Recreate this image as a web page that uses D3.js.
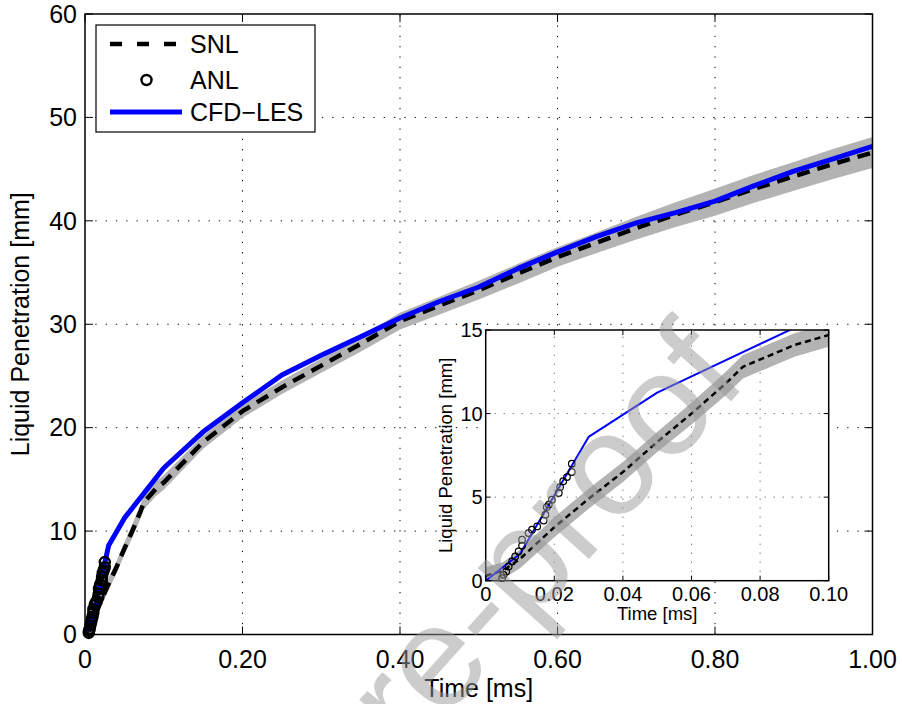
<!DOCTYPE html>
<html><head><meta charset="utf-8">
<script src="https://cdn.jsdelivr.net/npm/d3@7"></script>
<style>body{margin:0;background:#fff}svg{display:block;font-family:"Liberation Sans",Arial,sans-serif}</style>
</head><body><svg id="c" width="902" height="704"></svg>
<script>
// ---- data ----
const snlT = [0, 0.005, 0.01, 0.02, 0.03, 0.04, 0.05, 0.06, 0.07, 0.075, 0.09, 0.1, 0.15, 0.2, 0.25, 0.3, 0.35, 0.4, 0.45, 0.5, 0.55, 0.6, 0.65, 0.7, 0.75, 0.8, 0.85, 0.9, 0.95, 1.0];
const snlV = [0.3, 0.6, 1.3, 3.2, 4.9, 6.5, 8.3, 10.0, 11.8, 12.8, 14.1, 14.7, 18.6, 21.6, 23.9, 26.0, 28.1, 30.3, 31.8, 33.3, 34.9, 36.5, 37.9, 39.3, 40.6, 41.8, 43.1, 44.3, 45.5, 46.6];
const snlSd = [0.5, 0.5, 0.55, 0.6, 0.6, 0.6, 0.6, 0.65, 0.7, 0.7, 0.7, 0.7, 0.65, 0.65, 0.65, 0.7, 0.75, 0.8, 0.85, 0.9, 0.95, 0.95, 1.0, 1.1, 1.2, 1.3, 1.35, 1.4, 1.45, 1.5];
const cfdT = [0, 0.005, 0.01, 0.02, 0.03, 0.05, 0.1, 0.15, 0.2, 0.25, 0.3, 0.35, 0.4, 0.45, 0.5, 0.55, 0.6, 0.65, 0.7, 0.75, 0.8, 0.85, 0.9, 0.95, 1.0];
const cfdV = [0, 0.8, 1.6, 5.1, 8.6, 11.25, 16.1, 19.6, 22.4, 25.1, 27.0, 28.8, 30.6, 32.2, 33.6, 35.4, 37.0, 38.5, 39.8, 40.8, 41.9, 43.4, 44.8, 46.0, 47.2];
const anlT = [0.0048, 0.0052, 0.0060, 0.0067, 0.0077, 0.0086, 0.0096, 0.0106, 0.0106, 0.0125, 0.0135, 0.0150, 0.0169, 0.0174, 0.0178, 0.0184, 0.0193, 0.0213, 0.0217, 0.0226, 0.0237, 0.0251, 0.0251];
const anlV = [0.15, 0.35, 0.55, 0.85, 1.15, 1.45, 1.75, 2.1, 2.45, 2.85, 3.05, 3.25, 3.6, 3.95, 4.4, 4.55, 4.85, 5.25, 5.6, 5.95, 6.2, 6.5, 7.0];
const mainXTicks = [0, 0.2, 0.4, 0.6, 0.8, 1.0];
const mainXLabels = ["0", "0.20", "0.40", "0.60", "0.80", "1.00"];
const mainYTicks = [0, 10, 20, 30, 40, 50, 60];
const insetXTicks = [0, 0.02, 0.04, 0.06, 0.08, 0.1];
const insetXLabels = ["0", "0.02", "0.04", "0.06", "0.08", "0.10"];
const insetYTicks = [0, 5, 10, 15];
const legendNames = ["SNL", "ANL", "CFD\u2212LES"];
const xTitle = "Time [ms]", yTitle = "Liquid Penetration [mm]";
const watermark = "Pre-proof";

const snl = snlT.map((t, i) => ({t, v: snlV[i], sd: snlSd[i]}));
const cfd = cfdT.map((t, i) => ({t, v: cfdV[i]}));
const anl = anlT.map((t, i) => ({t, v: anlV[i]}));

const svg = d3.select("#c");

function panel(g, x, y, o) {
  const [x0, x1] = x.range(), [y0, y1] = y.range();
  const clipId = "clip" + o.id;
  svg.append("clipPath").attr("id", clipId).append("rect")
    .attr("x", x0).attr("y", y1).attr("width", x1 - x0).attr("height", y0 - y1);
  if (o.bg) g.append("rect").attr("x", x0).attr("y", y1).attr("width", x1 - x0).attr("height", y0 - y1).attr("fill", "#fff");
  const grid = g.append("g").attr("stroke", o.gridColor).attr("stroke-width", 1).attr("stroke-dasharray", o.gridDash);
  o.xt.slice(1, -1).forEach(t => grid.append("line").attr("x1", x(t)).attr("x2", x(t)).attr("y1", y0).attr("y2", y1));
  o.yt.slice(1, -1).forEach(t => grid.append("line").attr("y1", y(t)).attr("y2", y(t)).attr("x1", x0).attr("x2", x1));
  const data = g.append("g").attr("clip-path", `url(#${clipId})`);
  data.append("path").datum(snl)
    .attr("d", d3.area().x(d => x(d.t)).y0(d => y(d.v - d.sd)).y1(d => y(d.v + d.sd)))
    .attr("fill", "#b3b3b3");
  data.append("path").datum(snl)
    .attr("d", d3.line().x(d => x(d.t)).y(d => y(d.v)))
    .attr("fill", "none").attr("stroke", "#000").attr("stroke-width", o.dashW).attr("stroke-dasharray", o.dash);
  data.append("path").datum(cfd)
    .attr("d", d3.line().x(d => x(d.t)).y(d => y(d.v)))
    .attr("fill", "none").attr("stroke", "#0000ff").attr("stroke-width", o.blueW).attr("stroke-linejoin", "round");
  g.append("g").selectAll("circle").data(anl).join("circle")
    .attr("cx", d => x(d.t)).attr("cy", d => y(d.v)).attr("r", o.r)
    .attr("fill", "none").attr("stroke", "#000").attr("stroke-width", o.cw);
  g.append("rect").attr("x", x0).attr("y", y1).attr("width", x1 - x0).attr("height", y0 - y1)
    .attr("fill", "none").attr("stroke", "#000").attr("stroke-width", o.frameW);
  const tk = g.append("g").attr("stroke", "#000").attr("stroke-width", 1);
  o.xt.forEach(t => {
    tk.append("line").attr("x1", x(t)).attr("x2", x(t)).attr("y1", y0).attr("y2", y0 - o.tl);
    tk.append("line").attr("x1", x(t)).attr("x2", x(t)).attr("y1", y1).attr("y2", y1 + o.tl);
  });
  o.yt.forEach(t => {
    tk.append("line").attr("y1", y(t)).attr("y2", y(t)).attr("x1", x0).attr("x2", x0 + o.tl);
    tk.append("line").attr("y1", y(t)).attr("y2", y(t)).attr("x1", x1).attr("x2", x1 - o.tl);
  });
  const lab = g.append("g").attr("fill", "#000").attr("font-size", o.fs);
  o.xt.forEach((t, i) => lab.append("text").attr("x", x(t)).attr("y", y0 + o.xlOff).attr("text-anchor", "middle").text(o.xl[i]));
  o.yt.forEach(t => lab.append("text").attr("x", x0 - o.ylOff).attr("y", y(t)).attr("dy", "0.35em").attr("text-anchor", "end").text(d3.format("d")(t)));
  lab.append("text").attr("x", (x0 + x1) / 2).attr("y", y0 + o.xtOff).attr("text-anchor", "middle").attr("font-size", o.tfs).text(xTitle);
  lab.append("text").attr("transform", `translate(${x0 - o.ytOff},${(y0 + y1) / 2}) rotate(-90)`).attr("text-anchor", "middle").attr("font-size", o.tfs).text(yTitle);
}

// main
const xM = d3.scaleLinear().domain([0, 1]).range([85, 872.5]);
const yM = d3.scaleLinear().domain([0, 60]).range([634.5, 14]);
panel(svg.append("g"), xM, yM, {id: "m", bg: false, gridColor: "#000", gridDash: "1.3,9", dashW: 4.5, dash: "13,8", blueW: 5, r: 5, cw: 2.5,
  frameW: 1.5, tl: 8, xt: mainXTicks, xl: mainXLabels, yt: mainYTicks, fs: 25, tfs: 25, xlOff: 33, ylOff: 8, xtOff: 62, ytOff: 56});

// legend
const lg = svg.append("g");
lg.append("rect").attr("x", 96).attr("y", 25).attr("width", 219).attr("height", 107).attr("fill", "#fff").attr("stroke", "#000").attr("stroke-width", 1.2);
const ly = [44, 80, 112];
lg.append("line").attr("x1", 110).attr("x2", 181).attr("y1", ly[0]).attr("y2", ly[0]).attr("stroke", "#000").attr("stroke-width", 4.5).attr("stroke-dasharray", "12,15");
lg.append("circle").attr("cx", 146.5).attr("cy", ly[1]).attr("r", 5).attr("fill", "none").attr("stroke", "#000").attr("stroke-width", 2.5);
lg.append("line").attr("x1", 110).attr("x2", 182).attr("y1", ly[2]).attr("y2", ly[2]).attr("stroke", "#0000ff").attr("stroke-width", 5);
legendNames.forEach((n, i) => lg.append("text").attr("x", 190).attr("y", ly[i]).attr("dy", "0.35em").attr("font-size", 25).text(n));

// inset
const xI = d3.scaleLinear().domain([0, 0.1]).range([485.7, 828.7]);
const yI = d3.scaleLinear().domain([0, 15]).range([580.7, 330]);
panel(svg.append("g"), xI, yI, {id: "i", bg: true, gridColor: "#444", gridDash: "1,8", dashW: 2.5, dash: "6,4", blueW: 2, r: 3.3, cw: 1.2,
  frameW: 1.5, tl: 5, xt: insetXTicks, xl: insetXLabels, yt: insetYTicks, fs: 20, tfs: 18.5, xlOff: 20, ylOff: 3, xtOff: 39, ytOff: 34});

// watermark
svg.append("text").attr("transform", "translate(345,830) rotate(-48)")
  .attr("font-size", 145).attr("fill", "#9a9a9a").attr("fill-opacity", 0.5).text(watermark);
</script></body></html>
